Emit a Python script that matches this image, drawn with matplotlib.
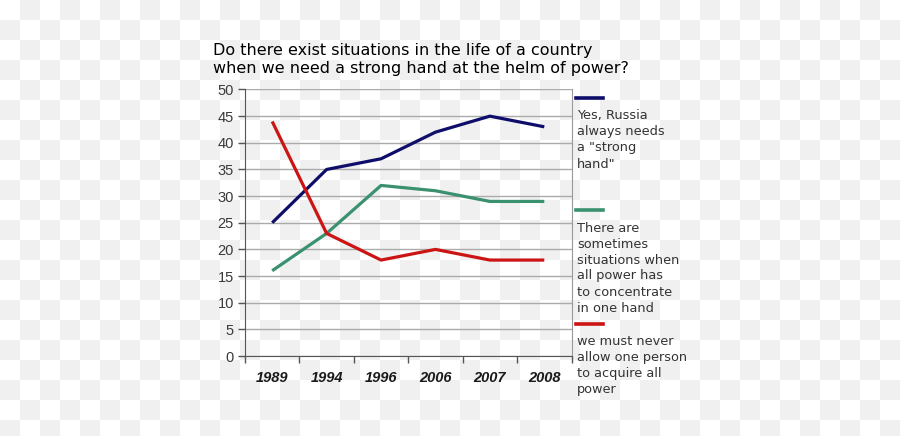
import numpy as np
import matplotlib
matplotlib.use("Agg")
import matplotlib.pyplot as plt
from matplotlib.lines import Line2D

years = ["1989", "1994", "1996", "2006", "2007", "2008"]
strong_hand = [25, 35, 37, 42, 45, 43]
sometimes = [16, 23, 32, 31, 29, 29]
never = [44, 23, 18, 20, 18, 18]

title_lines = ["Do there exist situations in the life of a country",
               "when we need a strong hand at the helm of power?"]
legend_labels = [
    ["Yes, Russia", "always needs", "a \"strong", "hand\""],
    ["There are", "sometimes", "situations when", "all power has", "to concentrate", "in one hand"],
    ["we must never", "allow one person", "to acquire all", "power"],
]
colors = ["#0e0e6a", "#3a9170", "#cc1414"]

W, H = 900, 436
fig = plt.figure(figsize=(W / 100, H / 100), dpi=100)
fig.patch.set_facecolor("white")

# checkerboard (transparency) background
yy, xx = np.mgrid[0:H, 0:W]
chk = ((xx // 20 + yy // 20) % 2).astype(float)
img = np.ones((H, W, 3))
img[chk == 1] = 0xf0 / 255.0
fig.figimage(img, xo=0, yo=0, origin="upper", zorder=-10)

def fx(px):
    return px / W

def fy(py):
    return 1 - py / H

ax = fig.add_axes([fx(245), fy(356), fx(571.5) - fx(245), fy(89.5) - fy(356)])
ax.patch.set_alpha(0)

x = np.arange(len(years))
for vals, c in zip([strong_hand, sometimes, never], colors):
    ax.plot(x, vals, color=c, lw=2.3, solid_capstyle="butt", solid_joinstyle="round", zorder=3)

ax.set_xlim(-0.5, len(years) - 0.5)
ax.set_ylim(0, 50)
ax.set_yticks(np.arange(0, 51, 5))
ax.yaxis.grid(True, color="#ababab", lw=1.0)
ax.set_axisbelow(True)

ax.set_xticks(np.arange(-0.5, len(years), 1.0))
ax.set_xticklabels([])
ax.set_xticks(x, minor=True)
ax.set_xticklabels(years, minor=True, fontfamily="Liberation Sans", fontweight="bold",
                   fontstyle="italic", fontsize=10.5, color="#1a1a1a")
ax.tick_params(axis="x", which="minor", length=0, pad=11)
ax.tick_params(axis="x", which="major", length=5, width=1, color="#555555", direction="out")
ax.tick_params(axis="y", length=5, width=1, color="#555555", direction="out", pad=3,
               labelsize=10.5, labelcolor="#3a3a3a")
for lab in ax.get_yticklabels():
    lab.set_fontfamily("Liberation Sans")

ax.spines["left"].set_color("#555555")
ax.spines["bottom"].set_color("#555555")
ax.spines["top"].set_visible(False)
ax.spines["right"].set_color("#999999")

# title
fig.text(fx(213), fy(55), title_lines[0], fontfamily="DejaVu Sans", fontsize=11.55,
         color="black", va="baseline", ha="left")
fig.text(fx(213), fy(73), title_lines[1], fontfamily="DejaVu Sans", fontsize=11.55,
         color="black", va="baseline", ha="left")

# legend
key_y = [98, 210, 324]
first_base = [119.5, 231.5, 345]
for lines, c, ky, fb in zip(legend_labels, colors, key_y, first_base):
    fig.add_artist(Line2D([fx(576), fx(603)], [fy(ky), fy(ky)], color=c, lw=2.6,
                          transform=fig.transFigure))
    for i, t in enumerate(lines):
        fig.text(fx(577), fy(fb + 16 * i), t, fontfamily="DejaVu Sans", fontsize=9.3,
                 color="#333333", va="baseline", ha="left")

fig.savefig("out.png", dpi=100)
